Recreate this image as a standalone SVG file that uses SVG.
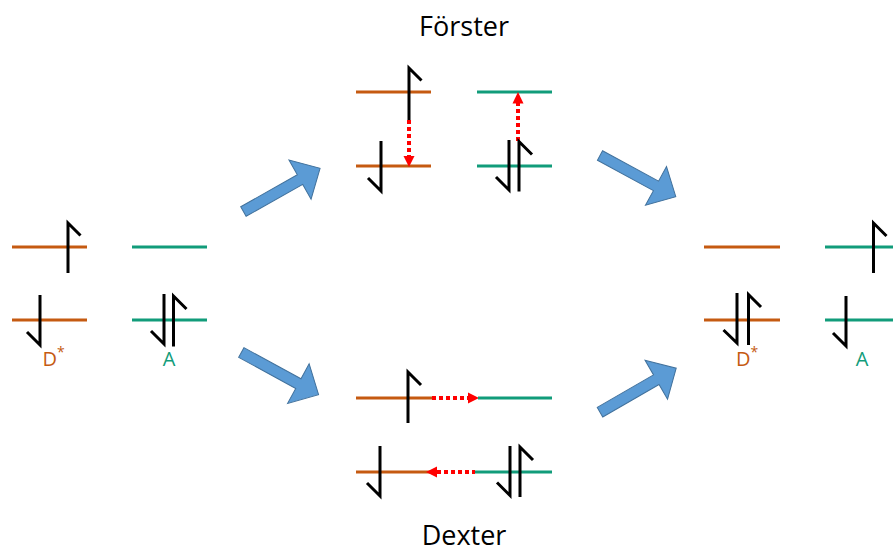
<svg xmlns="http://www.w3.org/2000/svg" width="893" height="554" viewBox="0 0 893 554">
<defs>
<style>
.or{stroke:#C55A11;stroke-width:3;fill:none}
.gr{stroke:#119C7A;stroke-width:3;fill:none}
.sp{stroke:#000;stroke-width:3;fill:none;stroke-linejoin:miter}
.rd{stroke:#FF0000;stroke-width:4;fill:none;stroke-dasharray:4 3}
.rh{fill:#FF0000}
.blue{fill:#5B9BD5;stroke:#41719C;stroke-width:1}
.title{font-family:"Open Sans","Noto Sans",sans-serif;font-size:27px;fill:#000;text-anchor:middle}
.lbl{font-family:"Open Sans","Noto Sans",sans-serif;font-size:20px}
.lo{fill:#C55A11}
.lg{fill:#119C7A}
</style>
<path id="barrow" d="M0,-5.5 L65,-5.5 L65,-22.5 L88,0 L65,22.5 L65,5.5 L0,5.5 Z"/>
</defs>
<rect width="893" height="554" fill="#fff"/>

<g id="connectors">
<use href="#barrow" class="blue" transform="translate(243.4,211.5) rotate(-29.4)"/>
<use href="#barrow" class="blue" transform="translate(241.3,352.5) rotate(28.6)"/>
<use href="#barrow" class="blue" transform="translate(600,155.5) rotate(28.5) scale(0.98)"/>
<use href="#barrow" class="blue" transform="translate(600,412.2) rotate(-30)"/>
</g>

<g id="initial">
<line class="or" x1="12" y1="247" x2="87" y2="247"/>
<line class="gr" x1="132" y1="247" x2="207" y2="247"/>
<line class="or" x1="12" y1="320" x2="87" y2="320"/>
<line class="gr" x1="132" y1="320" x2="207" y2="320"/>
<path class="sp" d="M68,273 L68,223 L80.5,235.5"/>
<path class="sp" d="M40,295 L40,345 L27,332"/>
<path class="sp" d="M164,294 L164,344 L151,331"/>
<path class="sp" d="M173.5,346.5 L173.5,296 L186.5,309"/>
<text class="lbl lo" x="42.5" y="366">D<tspan font-size="14" dy="-9">*</tspan></text>
<text class="lbl lg" x="169" y="366" text-anchor="middle">A</text>
</g>

<g id="forster">
<text class="title" x="464" y="36">Förster</text>
<line class="or" x1="356" y1="92" x2="431" y2="92"/>
<line class="gr" x1="477" y1="92" x2="552" y2="92"/>
<line class="or" x1="356" y1="166" x2="431" y2="166"/>
<line class="gr" x1="477" y1="166" x2="552" y2="166"/>
<path class="sp" d="M409,120 L409,68 L421.5,80.5"/>
<line class="rd" x1="409" y1="120" x2="409" y2="157"/>
<polygon class="rh" points="403.5,156 414.5,156 409,167"/>
<path class="sp" d="M381,141 L381,191 L368,178"/>
<line class="rd" x1="518" y1="141" x2="518" y2="103"/>
<polygon class="rh" points="512.5,103.5 523.5,103.5 518,92"/>
<path class="sp" d="M509,140 L509,190 L496,177"/>
<path class="sp" d="M519,191.5 L519,141.5 L532,154.5"/>
</g>

<g id="dexter">
<text class="title" x="464" y="545">Dexter</text>
<line class="or" x1="356" y1="398" x2="432" y2="398"/>
<line class="rd" x1="432" y1="398" x2="469" y2="398"/>
<polygon class="rh" points="468,392.5 468,403.5 479,398"/>
<line class="gr" x1="478" y1="398" x2="552" y2="398"/>
<path class="sp" d="M408,423 L408,372 L421,385"/>
<line class="or" x1="356" y1="472" x2="430" y2="472"/>
<polygon class="rh" points="437,466.5 437,477.5 426,472"/>
<line class="rd" x1="437" y1="472" x2="475" y2="472"/>
<line class="gr" x1="475" y1="472" x2="552" y2="472"/>
<path class="sp" d="M380,446 L380,496 L367,483"/>
<path class="sp" d="M510,446 L510,495.5 L497,482.5"/>
<path class="sp" d="M520,497 L520,447 L533,460"/>
</g>

<g id="final">
<line class="or" x1="704" y1="247" x2="780" y2="247"/>
<line class="gr" x1="825" y1="247" x2="895" y2="247"/>
<line class="or" x1="704" y1="320" x2="780" y2="320"/>
<line class="gr" x1="825" y1="320" x2="895" y2="320"/>
<path class="sp" d="M873.5,273 L873.5,223 L886.5,236"/>
<path class="sp" d="M737,293 L737,343 L723.5,330"/>
<path class="sp" d="M748.5,345 L748.5,294.5 L761,307"/>
<path class="sp" d="M846,296 L846,346 L833,333"/>
<text class="lbl lo" x="736" y="366">D<tspan font-size="14" dy="-9">*</tspan></text>
<text class="lbl lg" x="862" y="366" text-anchor="middle">A</text>
</g>
</svg>
